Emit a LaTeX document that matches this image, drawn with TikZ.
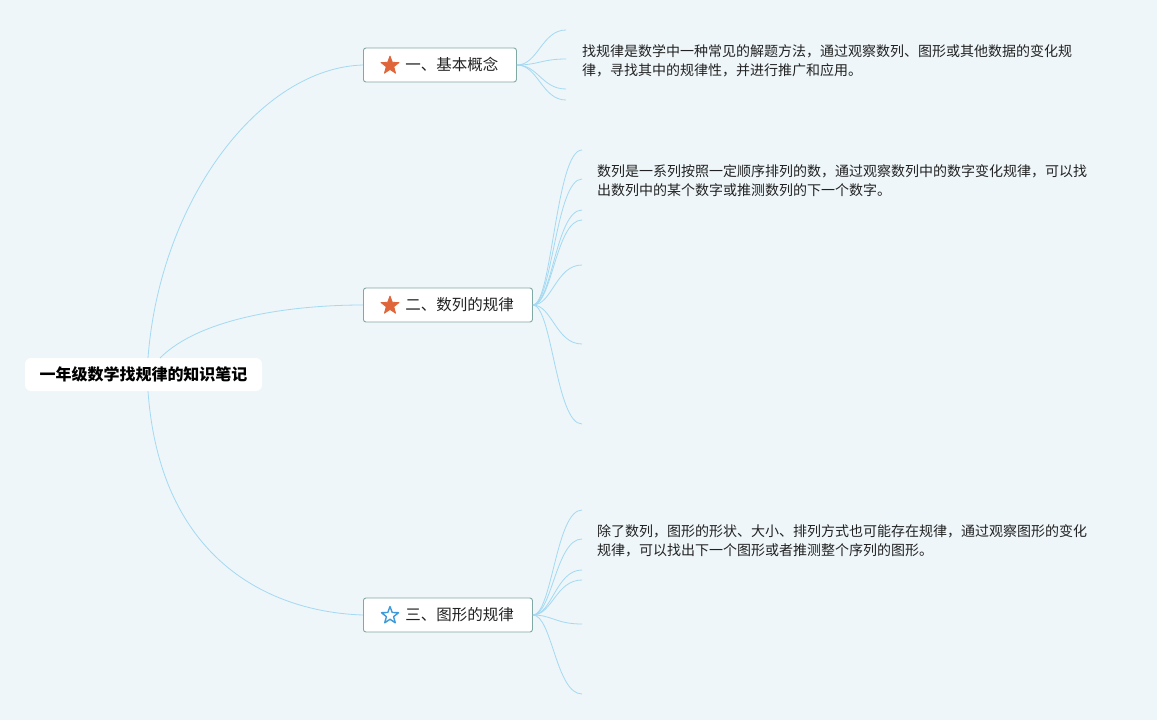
\documentclass[tikz,border=0pt]{standalone}
\usepackage{fontspec}
\setmainfont{Noto Sans CJK SC}
\usetikzlibrary{shapes.geometric}
\definecolor{bgc}{HTML}{EEF6F9}
\definecolor{linkc}{HTML}{A3D9F2}
\definecolor{boxborder}{HTML}{7FA9A2}
\definecolor{starorange}{HTML}{E0663A}
\definecolor{starblue}{HTML}{3D9BDB}
\definecolor{txt}{HTML}{222222}
\tikzset{
  link/.style={draw=linkc, line width=0.8pt},
  rootbox/.style={fill=white, rounded corners=6pt, minimum width=237pt, minimum height=33pt, inner sep=0pt, font=\fontsize{16}{18}\selectfont\bfseries, text=black},
  topicbox/.style={draw=boxborder, line width=0.9pt, fill=white, rounded corners=2.5pt, minimum height=34pt, inner sep=0pt, anchor=west, align=left, font=\fontsize{15.5}{18}\selectfont, text=txt},
  fullstar/.style={star, star points=5, star point ratio=2.4, fill=starorange, draw=starorange, line width=0.8pt, line join=round, minimum size=19pt, inner sep=0pt},
  hollowstar/.style={star, star points=5, star point ratio=2.4, draw=starblue, line width=1.4pt, line join=round, minimum size=18pt, inner sep=0pt},
  note/.style={anchor=west, inner sep=0pt, align=left, font=\fontsize{14}{19}\selectfont, text=txt}
}
\begin{document}
\begin{tikzpicture}[x=1pt, y=-1pt]
\fill[bgc] (0,0) rectangle (1157,720);
\useasboundingbox (0,0) rectangle (1157,720);

% root
\node[rootbox] (root) at (143.5,374.5) {一年级数学找规律的知识笔记};

% topic boxes
\node[topicbox, text width=153pt] (t1) at (363,65) {\hspace*{42pt}一、基本概念};
\node[topicbox, text width=169pt] (t2) at (363,305) {\hspace*{42pt}二、数列的规律};
\node[topicbox, text width=169pt] (t3) at (363,615) {\hspace*{42pt}三、图形的规律};

\node[fullstar] (s1) at (390,65.5) {};
\node[fullstar] (s2) at (390,305.5) {};
\node[hollowstar] (s3) at (390,615.5) {};

% root connectors
\coordinate (r1) at (148,358);
\coordinate (r2) at (160,358);
\coordinate (r3) at (148,391);
\draw[link] (r1) .. controls (160,200) and (260,68) .. (t1.west);
\draw[link] (r2) .. controls (200,318) and (290,305) .. (t2.west);
\draw[link] (r3) .. controls (160,560) and (270,612) .. (t3.west);

% branches of topic 1
\foreach \y [count=\i] in {30,59,89,100} {
  \coordinate (a\i) at (566,\y);
  \draw[link] (t1.east) .. controls (538,65) and (542,\y) .. (a\i);
}
% branches of topic 2
\foreach \y [count=\i] in {150,179,210,220,265,344,424} {
  \coordinate (b\i) at (582,\y);
  \draw[link] (t2.east) .. controls (552,305) and (556,\y) .. (b\i);
}
% branches of topic 3
\foreach \y [count=\i] in {510,539,570,580,624,694} {
  \coordinate (c\i) at (582,\y);
  \draw[link] (t3.east) .. controls (552,615) and (556,\y) .. (c\i);
}

% notes
\node[note] (n1) at (582,60.5) {找规律是数学中一种常见的解题方法，通过观察数列、图形或其他数据的变化规\\律，寻找其中的规律性，并进行推广和应用。};
\node[note] (n2) at (597,180.5) {数列是一系列按照一定顺序排列的数，通过观察数列中的数字变化规律，可以找\\出数列中的某个数字或推测数列的下一个数字。};
\node[note] (n3) at (597,541) {除了数列，图形的形状、大小、排列方式也可能存在规律，通过观察图形的变化\\规律，可以找出下一个图形或者推测整个序列的图形。};
\end{tikzpicture}
\end{document}
